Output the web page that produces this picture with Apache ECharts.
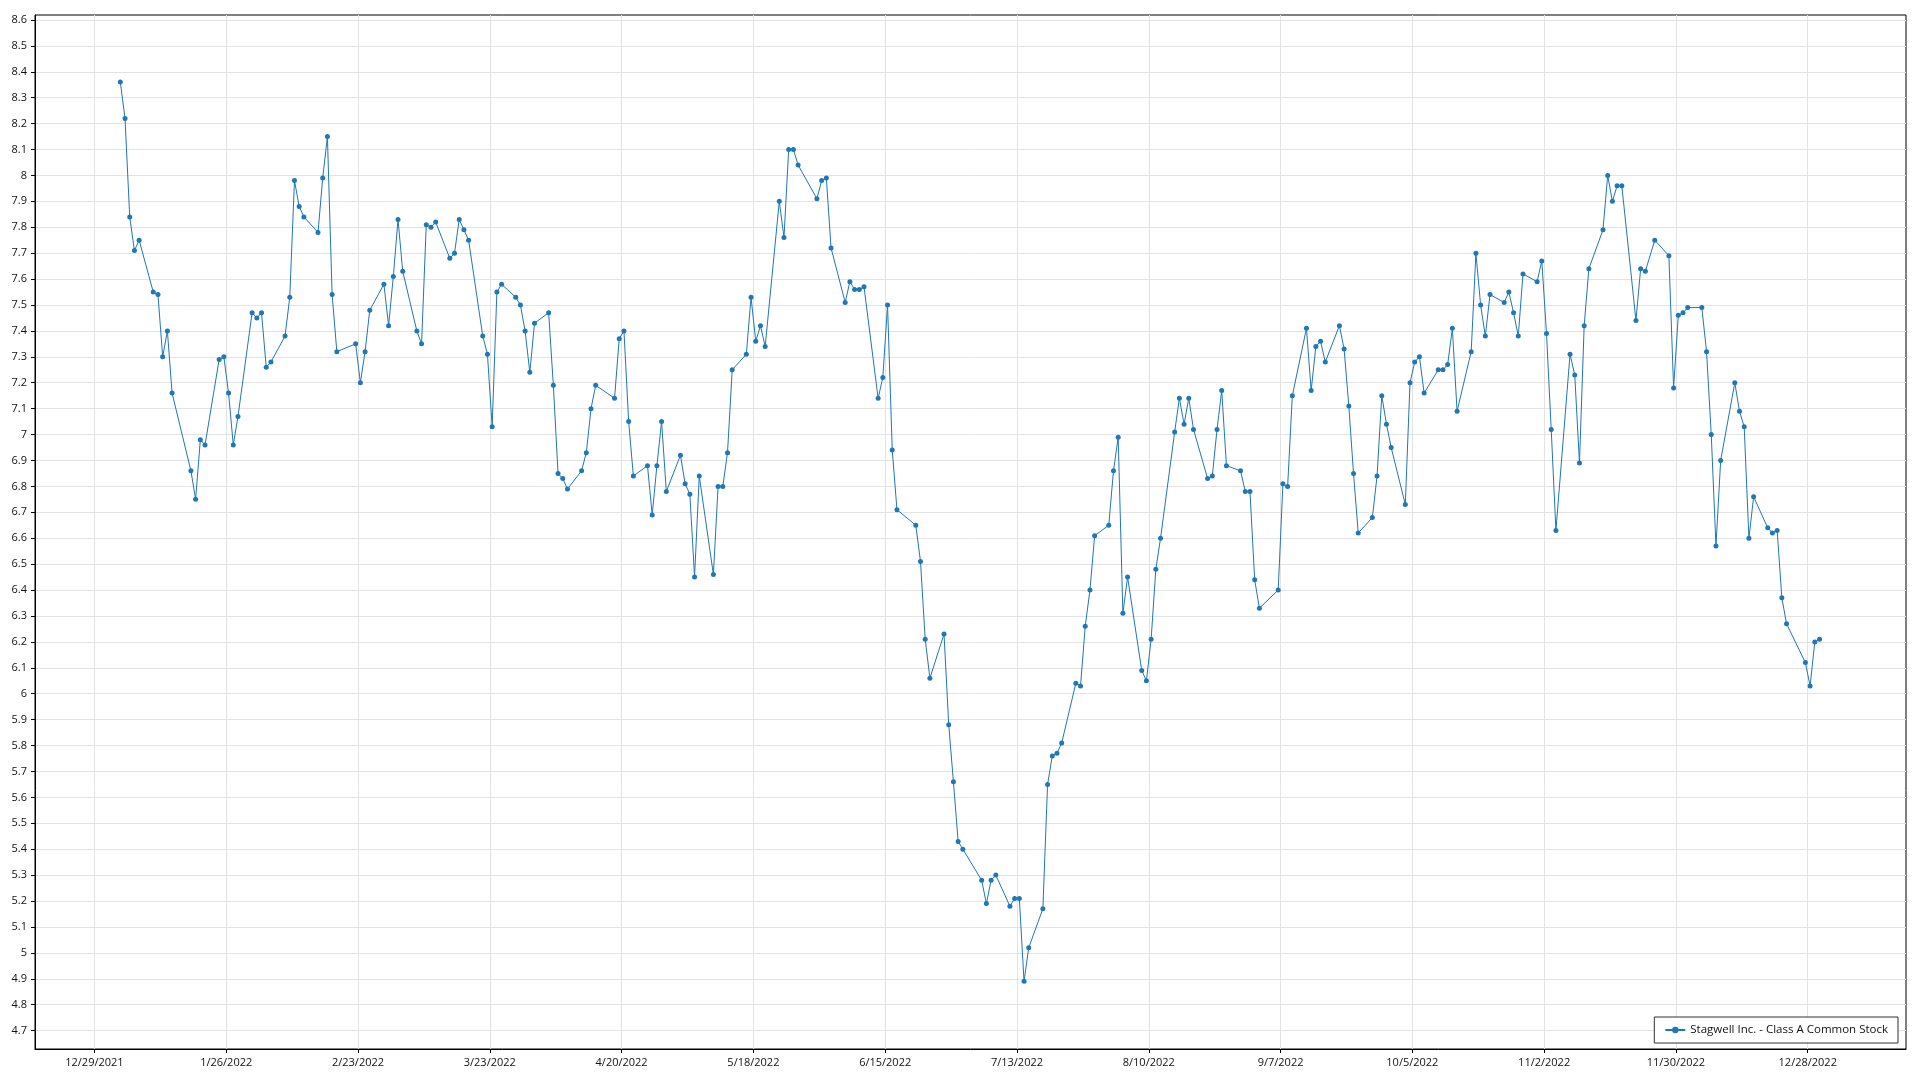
<!DOCTYPE html>
<html>
<head>
<meta charset="utf-8">
<script src="https://cdn.jsdelivr.net/npm/echarts@6/dist/echarts.min.js"></script>
<style>
html,body{margin:0;padding:0;background:#fff;}
#chart{width:1920px;height:1080px;}
</style>
</head>
<body>
<div id="chart"></div>
<script>
const seriesName = "Stagwell Inc. - Class A Common Stock";
const tradeDates = [
"01-03","01-04","01-05","01-06","01-07","01-10","01-11","01-12","01-13","01-14","01-18","01-19","01-20","01-21","01-24","01-25","01-26","01-27","01-28","01-31",
"02-01","02-02","02-03","02-04","02-07","02-08","02-09","02-10","02-11","02-14","02-15","02-16","02-17","02-18","02-22","02-23","02-24","02-25","02-28",
"03-01","03-02","03-03","03-04","03-07","03-08","03-09","03-10","03-11","03-14","03-15","03-16","03-17","03-18","03-21","03-22","03-23","03-24","03-25","03-28","03-29","03-30","03-31",
"04-01","04-04","04-05","04-06","04-07","04-08","04-11","04-12","04-13","04-14","04-18","04-19","04-20","04-21","04-22","04-25","04-26","04-27","04-28","04-29",
"05-02","05-03","05-04","05-05","05-06","05-09","05-10","05-11","05-12","05-13","05-16","05-17","05-18","05-19","05-20","05-23","05-24","05-25","05-26","05-27","05-31",
"06-01","06-02","06-03","06-06","06-07","06-08","06-09","06-10","06-13","06-14","06-15","06-16","06-17","06-21","06-22","06-23","06-24","06-27","06-28","06-29","06-30",
"07-01","07-05","07-06","07-07","07-08","07-11","07-12","07-13","07-14","07-15","07-18","07-19","07-20","07-21","07-22","07-25","07-26","07-27","07-28","07-29",
"08-01","08-02","08-03","08-04","08-05","08-08","08-09","08-10","08-11","08-12","08-15","08-16","08-17","08-18","08-19","08-22","08-23","08-24","08-25","08-26","08-29","08-30","08-31",
"09-01","09-02","09-06","09-07","09-08","09-09","09-12","09-13","09-14","09-15","09-16","09-19","09-20","09-21","09-22","09-23","09-26","09-27","09-28","09-29","09-30",
"10-03","10-04","10-05","10-06","10-07","10-10","10-11","10-12","10-13","10-14","10-17","10-18","10-19","10-20","10-21","10-24","10-25","10-26","10-27","10-28","10-31",
"11-01","11-02","11-03","11-04","11-07","11-08","11-09","11-10","11-11","11-14","11-15","11-16","11-17","11-18","11-21","11-22","11-23","11-25","11-28","11-29","11-30",
"12-01","12-02","12-05","12-06","12-07","12-08","12-09","12-12","12-13","12-14","12-15","12-16","12-19","12-20","12-21","12-22","12-23","12-27","12-28","12-29","12-30"
];
const closePrices = [
8.36,8.22,7.84,7.71,7.75,7.55,7.54,7.30,7.40,7.16,6.86,6.75,6.98,6.96,7.29,7.30,7.16,6.96,7.07,7.47,
7.45,7.47,7.26,7.28,7.38,7.53,7.98,7.88,7.84,7.78,7.99,8.15,7.54,7.32,7.35,7.20,7.32,7.48,7.58,
7.42,7.61,7.83,7.63,7.40,7.35,7.81,7.80,7.82,7.68,7.70,7.83,7.79,7.75,7.38,7.31,7.03,7.55,7.58,7.53,7.50,7.40,7.24,
7.43,7.47,7.19,6.85,6.83,6.79,6.86,6.93,7.10,7.19,7.14,7.37,7.40,7.05,6.84,6.88,6.69,6.88,7.05,6.78,
6.92,6.81,6.77,6.45,6.84,6.46,6.80,6.80,6.93,7.25,7.31,7.53,7.36,7.42,7.34,7.90,7.76,8.10,8.10,8.04,7.91,
7.98,7.99,7.72,7.51,7.59,7.56,7.56,7.57,7.14,7.22,7.50,6.94,6.71,6.65,6.51,6.21,6.06,6.23,5.88,5.66,5.43,
5.40,5.28,5.19,5.28,5.30,5.18,5.21,5.21,4.89,5.02,5.17,5.65,5.76,5.77,5.81,6.04,6.03,6.26,6.40,6.61,
6.65,6.86,6.99,6.31,6.45,6.09,6.05,6.21,6.48,6.60,7.01,7.14,7.04,7.14,7.02,6.83,6.84,7.02,7.17,6.88,6.86,6.78,6.78,
6.44,6.33,6.40,6.81,6.80,7.15,7.41,7.17,7.34,7.36,7.28,7.42,7.33,7.11,6.85,6.62,6.68,6.84,7.15,7.04,6.95,
6.73,7.20,7.28,7.30,7.16,7.25,7.25,7.27,7.41,7.09,7.32,7.70,7.50,7.38,7.54,7.51,7.55,7.47,7.38,7.62,7.59,
7.67,7.39,7.02,6.63,7.31,7.23,6.89,7.42,7.64,7.79,8.00,7.90,7.96,7.96,7.44,7.64,7.63,7.75,7.69,7.18,7.46,
7.47,7.49,7.49,7.32,7.00,6.57,6.90,7.20,7.09,7.03,6.60,6.76,6.64,6.62,6.63,6.37,6.27,6.12,6.03,6.20,6.21
];
const xTickDates = ["2021-12-29","2022-01-26","2022-02-23","2022-03-23","2022-04-20","2022-05-18","2022-06-15","2022-07-13","2022-08-10","2022-09-07","2022-10-05","2022-11-02","2022-11-30","2022-12-28"];
const yTickValues = [4.7,4.8,4.9,5.0,5.1,5.2,5.3,5.4,5.5,5.6,5.7,5.8,5.9,6.0,6.1,6.2,6.3,6.4,6.5,6.6,6.7,6.8,6.9,7.0,7.1,7.2,7.3,7.4,7.5,7.6,7.7,7.8,7.9,8.0,8.1,8.2,8.3,8.4,8.5,8.6];

const xMin = Date.UTC(2021, 11, 16, 9);
const xMax = Date.UTC(2023, 0, 17, 21);
const yMin = 4.629, yMax = 8.619;

const seriesData = tradeDates.map((d, i) => [Date.parse("2022-" + d + "T12:00:00Z"), closePrices[i]]);
const xTicks = xTickDates.map(d => Date.parse(d + "T00:00:00Z"));

const FONT = "Open Sans";
const chart = echarts.init(document.getElementById('chart'), null, {renderer: 'canvas'});
chart.setOption({
  animation: false,
  backgroundColor: '#ffffff',
  textStyle: {fontFamily: FONT},
  grid: {left: 35, right: 14, top: 15, bottom: 31, show: true, borderColor: '#000', borderWidth: 1, containLabel: false},
  xAxis: {
    type: 'value', min: xMin, max: xMax,
    axisLine: {show: true, onZero: false, lineStyle: {color: '#000', width: 1}},
    axisTick: {show: true, customValues: xTicks, length: 4, lineStyle: {color: '#000'}},
    axisLabel: {
      customValues: xTicks, margin: 8, color: '#111', fontSize: 11, fontFamily: FONT,
      formatter: v => { const d = new Date(v); return (d.getUTCMonth() + 1) + '/' + d.getUTCDate() + '/' + d.getUTCFullYear(); }
    },
    splitLine: {show: true, lineStyle: {color: '#e3e3e3', width: 1}}
  },
  yAxis: {
    type: 'value', min: yMin, max: yMax,
    axisLine: {show: true, onZero: false, lineStyle: {color: '#000', width: 1}},
    axisTick: {show: true, customValues: yTickValues, length: 4, lineStyle: {color: '#000'}},
    axisLabel: {
      customValues: yTickValues, margin: 8, color: '#111', fontSize: 11, fontFamily: FONT,
      formatter: v => String(Math.round(v * 10) / 10)
    },
    splitLine: {show: true, lineStyle: {color: '#e3e3e3', width: 1}}
  },
  legend: {
    show: true, right: 22, bottom: 37, orient: 'horizontal',
    backgroundColor: '#fff', borderColor: '#333', borderWidth: 1, borderRadius: 0,
    padding: [7, 10, 7, 10], itemWidth: 20, itemHeight: 8,
    textStyle: {fontSize: 11.5, color: '#111', fontFamily: FONT},
    data: [seriesName]
  },
  series: [{
    name: seriesName, type: 'line', data: seriesData,
    symbol: 'circle', symbolSize: 5, showSymbol: true,
    lineStyle: {color: '#1f77b4', width: 1},
    itemStyle: {color: '#1f77b4'},
    emphasis: {disabled: true}
  }]
});
</script>
</body>
</html>
